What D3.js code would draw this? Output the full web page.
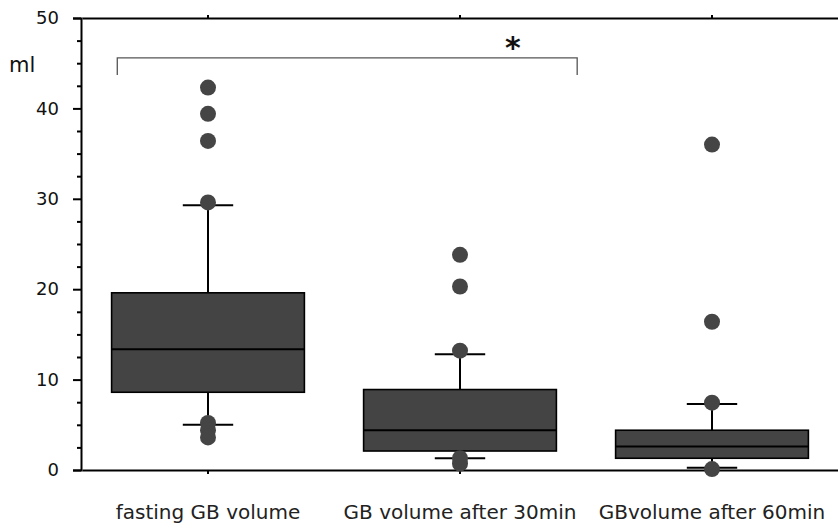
<!DOCTYPE html>
<html><head><meta charset="utf-8">
<script src="https://cdn.jsdelivr.net/npm/d3@7"></script>
<style>body{margin:0;background:#fff}svg{display:block}</style>
</head><body>
<script>
const categories = ["fasting GB volume", "GB volume after 30min", "GBvolume after 60min"];
const q1 = [8.6, 2.1, 1.3];
const medians = [13.35, 4.4, 2.6];
const q3 = [19.6, 8.9, 4.4];
const whiskerLow = [5.0, 1.3, 0.25];
const whiskerHigh = [29.3, 12.8, 7.3];
const outliers = [
  [42.3, 39.4, 36.4, 29.6, 5.2, 4.4, 3.6],
  [23.8, 20.3, 13.2, 1.3, 0.7],
  [36.0, 16.4, 7.45, 0.1]
];
const yTicks = [0, 10, 20, 30, 40, 50];
const yMinorTicks = d3.range(0, 50.01, 2.5);
const yLabel = "ml";
const sigLabel = "*";

const FONT = "'DejaVu Sans', sans-serif";
const W = 838, H = 528;
const svg = d3.select("body").append("svg").attr("width", W).attr("height", H)
  .style("font-family", FONT);

const x = d3.scaleBand().domain(categories).range([82, 838]);
const y = d3.scaleLinear().domain([0, 50]).range([470, 18]);
const cx = c => x(c) + x.bandwidth() / 2;
const boxW = x.bandwidth() * 0.765;
const capW = x.bandwidth() * 0.2;

// left axis
const yAxis = d3.axisLeft(y).tickValues(yTicks).tickSize(8).tickPadding(14).tickFormat(d3.format("d"));
const gy = svg.append("g").attr("transform", "translate(81,0)").call(yAxis).attr("font-family", FONT);
gy.select(".domain").attr("stroke-width", 2);
gy.selectAll(".tick line").attr("stroke-width", 2);
gy.selectAll(".tick text").attr("font-size", 18).attr("fill", "#111");
const gyMinor = svg.append("g").attr("transform", "translate(81,0)")
  .call(d3.axisLeft(y).tickValues(yMinorTicks.filter(v => v % 10 !== 0)).tickSize(4).tickFormat(""));
gyMinor.select(".domain").remove();
gyMinor.selectAll(".tick line").attr("stroke-width", 2);

// bottom axis
const gx = svg.append("g").attr("transform", "translate(0,470)")
  .call(d3.axisBottom(x).tickSize(4).tickPadding(31).tickSizeOuter(0)).attr("font-family", FONT);
gx.select(".domain").attr("stroke-width", 2);
gx.selectAll(".tick line").attr("stroke-width", 2);
gx.selectAll(".tick text").attr("font-size", 20).attr("fill", "#222");

// top axis
const gt = svg.append("g").attr("transform", "translate(0,18)")
  .call(d3.axisTop(x).tickSize(3).tickSizeOuter(0).tickFormat(""));
gt.select(".domain").attr("stroke-width", 2);
gt.selectAll(".tick line").attr("stroke-width", 2);

// y label
svg.append("text").attr("x", 9).attr("y", 72).attr("font-size", 21).attr("fill", "#111").text(yLabel);

// boxes
const g = svg.append("g");
categories.forEach((c, i) => {
  const xc = cx(c);
  g.append("line").attr("x1", xc).attr("x2", xc).attr("y1", y(q3[i])).attr("y2", y(whiskerHigh[i]))
    .attr("stroke", "#000").attr("stroke-width", 2);
  g.append("line").attr("x1", xc).attr("x2", xc).attr("y1", y(q1[i])).attr("y2", y(whiskerLow[i]))
    .attr("stroke", "#000").attr("stroke-width", 2);
  [whiskerHigh[i], whiskerLow[i]].forEach(v => {
    g.append("line").attr("x1", xc - capW / 2).attr("x2", xc + capW / 2).attr("y1", y(v)).attr("y2", y(v))
      .attr("stroke", "#000").attr("stroke-width", 2);
  });
  g.append("rect").attr("x", xc - boxW / 2).attr("width", boxW)
    .attr("y", y(q3[i])).attr("height", y(q1[i]) - y(q3[i]))
    .attr("fill", "#444").attr("stroke", "#000").attr("stroke-width", 1.6);
  g.append("line").attr("x1", xc - boxW / 2).attr("x2", xc + boxW / 2)
    .attr("y1", y(medians[i])).attr("y2", y(medians[i])).attr("stroke", "#000").attr("stroke-width", 2);
  outliers[i].forEach(v => {
    g.append("circle").attr("cx", xc).attr("cy", y(v)).attr("r", 8).attr("fill", "#454545");
  });
});

// significance bracket
const bx1 = cx(categories[0]) - x.bandwidth() * 0.36;
const bx2 = cx(categories[1]) + x.bandwidth() * 0.465;
const byTop = y(45.6), byBot = y(43.7);
svg.append("path").attr("d", `M${bx1},${byBot}V${byTop}H${bx2}V${byBot}`)
  .attr("fill", "none").attr("stroke", "#555").attr("stroke-width", 1.3);
svg.append("text").attr("x", cx(categories[1]) + x.bandwidth() * 0.21).attr("y", 58)
  .attr("text-anchor", "middle").attr("font-size", 30).attr("font-weight", "bold").attr("fill", "#111").text(sigLabel);
</script>
</body></html>
